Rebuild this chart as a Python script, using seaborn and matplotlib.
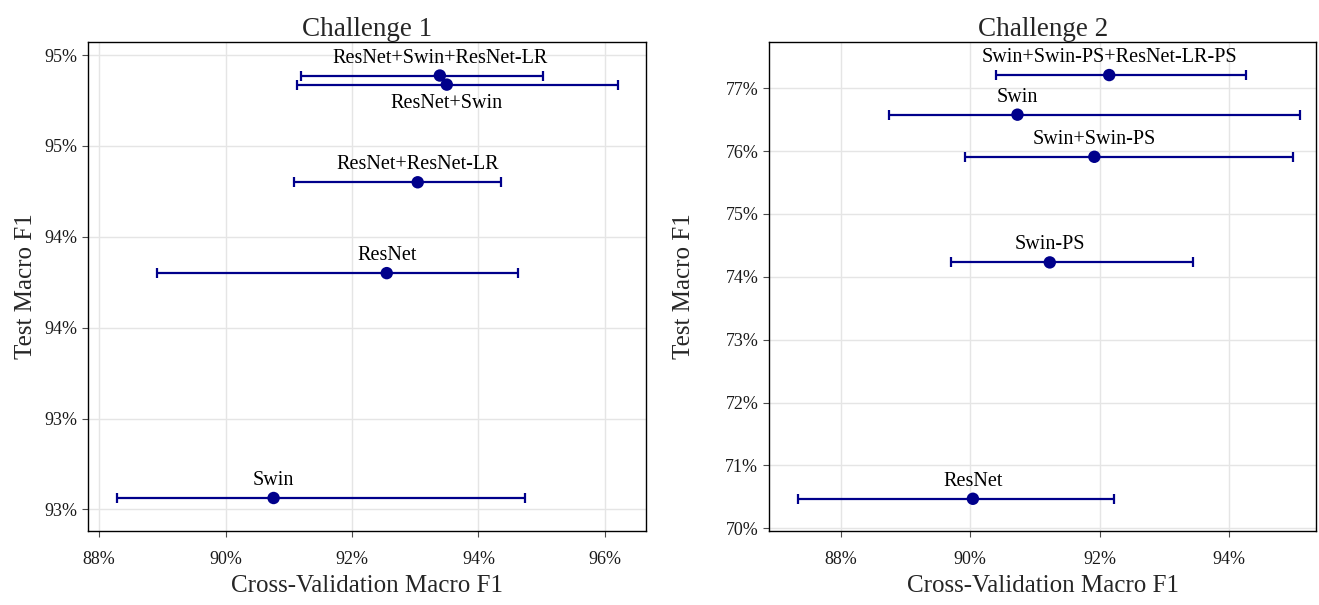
import numpy as np
import pandas as pd
import seaborn as sns
import matplotlib.pyplot as plt
from matplotlib.ticker import FuncFormatter

# Challenge 1
c1_models = ["ResNet+Swin+ResNet-LR", "ResNet+Swin", "ResNet+ResNet-LR", "ResNet", "Swin"]
c1_cv = [93.39, 93.50, 93.04, 92.55, 90.76]
c1_cv_lo = [91.19, 91.13, 91.08, 88.92, 88.29]
c1_cv_hi = [95.02, 96.21, 94.36, 94.62, 94.73]
c1_test = [94.91, 94.87, 94.44, 94.04, 93.05]
c1_label_below = [False, True, False, False, False]
c1_yticks = [93.0, 93.4, 93.8, 94.2, 94.6, 95.0]
c1_xticks = [88, 90, 92, 94, 96]

# Challenge 2
c2_models = ["Swin+Swin-PS+ResNet-LR-PS", "Swin", "Swin+Swin-PS", "Swin-PS", "ResNet"]
c2_cv = [92.15, 90.73, 91.92, 91.23, 90.04]
c2_cv_lo = [90.40, 88.74, 89.92, 89.70, 87.34]
c2_cv_hi = [94.26, 95.10, 95.00, 93.45, 92.22]
c2_test = [77.21, 76.58, 75.91, 74.23, 70.47]
c2_label_below = [False, False, False, False, False]
c2_yticks = [70, 71, 72, 73, 74, 75, 76, 77]
c2_xticks = [88, 90, 92, 94]

sns.set_theme(style="whitegrid")
plt.rcParams['font.family'] = ['Liberation Serif', 'DejaVu Serif']

COLOR = "#00008B"

fig = plt.figure(figsize=(13.19, 6.05), dpi=100)
ax1 = fig.add_axes([0.0670, 0.1228, 0.4227, 0.8083])
ax2 = fig.add_axes([0.5833, 0.1228, 0.4144, 0.8083])


def draw_panel(ax, title, models, cv, lo, hi, test, below, xticks, yticks, xlim, ylim, ylabelpad):
    df = pd.DataFrame({"model": models, "cv": cv, "lo": lo, "hi": hi, "test": test})
    xerr = np.array([df["cv"] - df["lo"], df["hi"] - df["cv"]])
    ax.errorbar(df["cv"], df["test"], xerr=xerr, fmt="none", ecolor=COLOR,
                elinewidth=1.6, capsize=3.3, capthick=1.6, zorder=3)
    sns.scatterplot(data=df, x="cv", y="test", ax=ax, color=COLOR, s=80,
                    edgecolor="none", zorder=4, legend=False)
    for m, x, y, b in zip(models, cv, test, below):
        off = -13.9 if b else 12.6
        ax.annotate(m, (x, y), xytext=(0, off), textcoords="offset points",
                    ha="center", va="center", fontsize=14.5, color="black")
    ax.set_xticks(xticks)
    ax.set_yticks(yticks)
    ax.set_xlim(*xlim)
    ax.set_ylim(*ylim)
    pct = FuncFormatter(lambda v, p: "{:.0f}%".format(v))
    ax.xaxis.set_major_formatter(pct)
    ax.yaxis.set_major_formatter(pct)
    ax.grid(True, color="#E5E5E5", linewidth=1.0)
    for s in ax.spines.values():
        s.set_color("black")
        s.set_linewidth(1.0)
    ax.tick_params(axis="both", which="major", length=4, width=0.8, color="#4d4d4d",
                   labelsize=13, labelcolor="#1a1a1a", bottom=True, left=True)
    ax.tick_params(axis="x", pad=10.5)
    ax.tick_params(axis="y", pad=4)
    ax.set_xlabel("Cross-Validation Macro F1", fontsize=18, labelpad=5.5)
    ax.set_ylabel("Test Macro F1", fontsize=18, labelpad=ylabelpad)
    ax.set_title(title, fontsize=19.5, pad=4)


draw_panel(ax1, "Challenge 1", c1_models, c1_cv, c1_cv_lo, c1_cv_hi, c1_test,
           c1_label_below, c1_xticks, c1_yticks, (87.83, 96.65), (92.906, 95.059), 5.5)
draw_panel(ax2, "Challenge 2", c2_models, c2_cv, c2_cv_lo, c2_cv_hi, c2_test,
           c2_label_below, c2_xticks, c2_yticks, (86.89, 95.35), (69.962, 77.741), 21.5)

fig.savefig("out.png", dpi=100, facecolor="white")
